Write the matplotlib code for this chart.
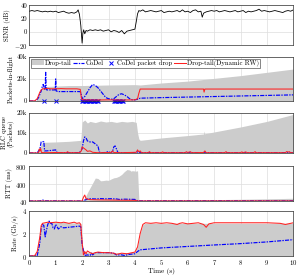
import matplotlib
matplotlib.use("Agg")
import matplotlib.pyplot as plt
from matplotlib.patches import Patch
from matplotlib.lines import Line2D

plt.rcParams["font.family"] = "cmr10"
plt.rcParams["mathtext.fontset"] = "cm"
plt.rcParams["axes.formatter.use_mathtext"] = True

# ---- SINR (dB) ----
sinr_t = [0.0, 0.1, 0.2, 0.3, 0.4, 0.5, 0.6, 0.7, 0.8, 0.9, 1.0, 1.1, 1.2, 1.3, 1.4, 1.5, 1.6, 1.7,
          1.8, 1.85, 1.9, 1.95, 2.0, 2.03, 2.06, 2.1, 2.15, 2.2, 2.3, 2.4, 2.5, 2.6, 2.7, 2.8, 2.9,
          3.0, 3.1, 3.2, 3.3, 3.4, 3.5, 3.6, 3.7, 3.8, 3.9, 4.0, 4.05, 4.1, 4.15, 4.2, 4.3, 4.4,
          4.5, 4.6, 4.7, 4.8, 4.9, 5.0, 5.1, 5.2, 5.3, 5.4, 5.5, 5.6, 5.7, 5.8, 5.9, 6.0, 6.1,
          6.2, 6.3, 6.4, 6.5, 6.55, 6.6, 6.7, 6.8, 6.9, 7.0, 7.1, 7.2, 7.3, 7.4, 7.5, 7.6, 7.7,
          7.8, 7.9, 8.0, 8.1, 8.2, 8.3, 8.4, 8.5, 8.6, 8.7, 8.8, 8.9, 9.0, 9.1, 9.2, 9.3, 9.4,
          9.5, 9.6, 9.7, 9.8, 9.9, 10.0]
sinr_v = [31, 32, 31, 32, 31, 30, 31, 30, 31, 30, 31, 29, 30, 31, 29, 28, 29, 28,
          30, 33, 26, 10, -17, -2, 3, -3, 2, 1, 3, 2, 3, 2, 3, 1, 2,
          3, 0, 2, 1, -1, 2, -3, 1, 2, 3, 4, 15, 27, 32, 31, 33, 30,
          31, 32, 31, 30, 31, 32, 29, 30, 31, 30, 31, 32, 30, 33, 30, 31, 29,
          32, 33, 30, 31, 22, 28, 30, 31, 32, 31, 32, 30, 31, 32, 31, 30, 31,
          32, 30, 31, 32, 29, 31, 30, 31, 32, 34, 31, 32, 31, 30, 31, 32, 31,
          30, 29, 31, 32, 31, 33]

# ---- Packets in flight (k packets) ----
dt_inf_t = [0, 0.25, 0.35, 0.45, 0.5, 1.0, 1.5, 1.95, 2.0, 3.0, 4.0, 4.2, 5.0, 6.0, 7.0, 8.0, 9.0, 10.0]
dt_inf_v = [0, 0, 4, 11, 13, 13.5, 14, 14, 14, 14.5, 14.8, 14.5, 16.3, 18, 20.5, 23, 26, 29]

rw_inf_t = [0, 0.2, 0.3, 0.4, 0.45, 0.5, 0.6, 0.7, 0.8, 1.0, 1.2, 1.4, 1.6, 1.8, 1.93, 1.97, 2.0,
            2.5, 3.0, 3.5, 4.0, 4.1, 4.15, 4.2, 5.0, 6.0, 6.6, 6.62, 6.65, 7.0, 8.0, 9.0, 10.0]
rw_inf_v = [0, 0, 2, 8, 10, 11, 11, 11.5, 11, 11, 11.2, 11, 11, 11, 10.5, 3, 1,
            0.8, 1, 0.8, 1, 2, 7, 10.8, 10.8, 10.8, 10.8, 8, 10.8, 10.8, 10.8, 10.8, 10.8]

cd_inf_t = [0, 0.25, 0.35, 0.45, 0.5, 0.53, 0.56, 0.6, 0.62, 0.64, 0.66, 0.7, 0.8, 0.9, 0.98, 1.0,
            1.02, 1.1, 1.3, 1.5, 1.7, 1.9, 1.95, 2.0, 2.1, 2.2, 2.3, 2.4, 2.5, 2.6, 2.7, 2.8, 2.9,
            3.0, 3.1, 3.2, 3.3, 3.4, 3.5, 3.6, 3.7, 3.8, 3.9, 4.0, 4.1, 4.2, 5.0, 6.0, 7.0, 8.0,
            9.0, 10.0]
cd_inf_v = [0, 0, 3, 9, 14, 15, 12, 10, 26, 12, 10, 10, 10, 10, 10, 20,
            9, 8.5, 8.5, 8.5, 8.5, 8.5, 8, 2, 4, 8, 12, 15, 14, 12, 9, 6, 3,
            2, 1.5, 2, 4, 6, 6.5, 5.5, 4, 2, 1, 1, 1.5, 2.5, 3, 3.5, 4, 4.5,
            5, 5.5]

cd_drop_t = [0.55, 1.0, 2.0, 2.05, 2.1, 2.15, 2.2, 2.25, 2.3, 2.35, 2.4, 2.45, 2.5, 2.55, 2.6,
             3.2, 3.25, 3.3, 3.35, 3.4, 3.45, 3.5, 3.55]
cd_drop_v = [0] * len(cd_drop_t)

# ---- RLC queue (k packets) ----
dt_rlc_t = [0, 0.3, 0.4, 0.5, 1.0, 1.5, 1.95, 1.97, 2.0, 2.1, 2.2, 2.3, 2.5, 2.7, 2.9, 3.1, 3.3,
            3.5, 3.7, 3.9, 4.05, 4.1, 4.15, 4.2, 5.0, 6.0, 6.6, 6.62, 6.64, 7.0, 8.0, 9.0, 10.0]
dt_rlc_v = [0, 0, 3, 5.3, 5.5, 5.8, 6.3, 10, 15.5, 16.5, 15, 15.8, 15.2, 16, 15.5, 15.8, 15.3,
            15.8, 15.5, 15.8, 15.3, 10, 7, 6.3, 7.5, 8.7, 9.5, 11, 9.6, 10.5, 13, 15.8, 19.3]

cd_rlc_t = [0, 0.3, 0.4, 0.45, 0.55, 0.58, 0.65, 0.8, 1.0, 1.05, 1.2, 1.9, 2.0, 2.05, 2.1, 2.15,
            2.2, 2.3, 2.4, 2.5, 2.6, 2.65, 2.7, 2.9, 3.0, 3.05, 3.15, 3.2, 3.25, 3.3, 3.35, 3.4,
            4.0, 4.1, 4.2, 10.0]
cd_rlc_v = [0, 0, 2, 5.5, 5.7, 1, 1, 1.2, 1.5, 0.2, 0.1, 0.1, 2, 6, 8, 7.5,
            6, 5.5, 5.5, 4.5, 3.5, 0.5, 0.1, 0.2, 0.8, 0.1, 0.5, 3, 3.5, 2, 0.3, 0.1,
            0.1, 0.5, 0.1, 0.1]

rw_rlc_t = [0, 0.35, 0.38, 0.4, 0.43, 0.46, 0.6, 1.0, 1.4, 1.45, 1.5, 1.9, 1.97, 2.0, 2.05, 2.1,
            2.15, 2.2, 2.3, 2.4, 2.6, 3.1, 3.15, 3.2, 3.5, 4.05, 4.1, 4.15, 4.2, 4.25, 4.5, 4.55,
            4.6, 5.0, 5.05, 5.1, 5.9, 5.95, 6.0, 6.1, 6.15, 6.6, 6.65, 6.7, 7.4, 7.45, 7.5, 8.0,
            8.05, 8.1, 8.2, 8.25, 8.5, 8.55, 8.6, 9.7, 9.75, 9.8, 9.85, 9.9, 10.0]
rw_rlc_v = [0, 0, 2, 1, 2.2, 0.2, 0.1, 0.2, 0.1, 0.6, 0.1, 0.1, 1, 3, 2.5, 2,
            1.5, 0.8, 1, 0.3, 0.1, 0.2, 1, 0.2, 0.1, 0.3, 1.5, 0.5, 1, 0.1, 0.1, 0.6,
            0.1, 0.1, 0.5, 0.1, 0.1, 0.6, 0.2, 0.6, 0.1, 0.2, 1, 0.1, 0.1, 0.6, 0.1, 0.1,
            0.5, 0.1, 0.5, 0.1, 0.1, 0.6, 0.1, 0.1, 0.7, 0.4, 0.6, 0.1, 0.1]

# ---- RTT (ms) ----
dt_rtt_t = [0, 0.4, 0.5, 0.6, 2.0, 2.1, 2.2, 2.35, 2.5, 2.6, 2.7, 2.8, 2.9, 3.0, 3.1, 3.2, 3.3,
            3.4, 3.5, 3.6, 3.7, 3.8, 3.85, 3.9, 4.05, 4.1, 4.15, 4.2, 5.0, 6.0, 7.0, 8.0, 9.0, 10.0]
dt_rtt_v = [45, 45, 55, 45, 45, 100, 220, 380, 540, 530, 480, 485, 495, 490, 520, 545, 555,
            580, 620, 680, 725, 715, 690, 700, 690, 700, 60, 50, 55, 62, 70, 78, 88, 100]

cd_rtt_t = [0, 0.4, 0.5, 0.55, 0.6, 2.0, 2.1, 2.2, 2.3, 2.5, 2.7, 2.9, 3.1, 3.3, 3.4, 3.6, 3.8,
            4.0, 4.1, 10.0]
cd_rtt_v = [42, 42, 60, 55, 45, 42, 60, 80, 90, 85, 92, 88, 90, 85, 75, 80, 78,
            75, 45, 45]

rw_rtt_t = [0, 2.0, 2.05, 2.1, 2.15, 2.3, 2.6, 3.0, 3.5, 4.0, 4.1, 10.0]
rw_rtt_v = [40, 40, 120, 170, 90, 70, 65, 62, 58, 55, 42, 42]

# ---- Rate (Gb/s) ----
dt_rate_t = [0, 0.2, 0.3, 0.4, 0.45, 0.5, 1.0, 1.5, 1.95, 2.0, 2.05, 2.1, 2.3, 2.6, 3.0, 3.5,
             4.0, 4.1, 4.2, 4.3, 4.4, 10.0]
dt_rate_v = [0, 0, 0.5, 1.8, 2.6, 2.9, 3.0, 2.95, 2.9, 1.5, 0.1, 0.3, 0.35, 0.35, 0.3, 0.25,
             0.35, 0.8, 2.0, 2.8, 2.9, 2.9]

rw_rate_t = [0, 0.2, 0.3, 0.4, 0.45, 0.5, 0.6, 0.7, 0.8, 1.0, 1.2, 1.3, 1.5, 1.6, 1.7, 1.8,
             1.9, 1.95, 2.0, 2.05, 2.1, 2.15, 2.2, 2.3, 2.4, 2.5, 2.6, 2.8, 3.0, 3.2, 3.3,
             3.4, 3.5, 3.7, 3.9, 4.0, 4.1, 4.2, 4.3, 4.4, 4.6, 4.8, 5.0, 5.2, 5.4, 5.6, 5.7,
             5.8, 6.0, 6.2, 6.4, 6.6, 6.7, 6.8, 7.0, 7.5, 8.0, 8.5, 9.0, 9.5, 9.7, 9.8, 10.0]
rw_rate_v = [0, 0.02, 0.4, 1.7, 2.7, 2.9, 2.95, 3.0, 2.95, 3.0, 2.95, 3.0, 2.9, 2.95, 3.0, 2.9,
             2.95, 2.8, 1.2, 0.1, 0.4, 0.2, 0.45, 0.3, 0.2, 0.3, 0.35, 0.3, 0.3, 0.25, 0.15,
             0.2, 0.25, 0.2, 0.3, 0.35, 0.8, 2.0, 2.8, 2.95, 2.9, 2.95, 2.9, 2.95, 2.9, 2.8, 2.9,
             2.95, 2.85, 2.9, 2.95, 2.8, 2.55, 2.85, 2.95, 2.95, 2.95, 2.95, 2.95, 2.9, 2.8, 2.85, 2.95]

cd_rate_t = [0, 0.3, 0.4, 0.45, 0.5, 0.55, 0.6, 0.65, 0.7, 0.75, 0.8, 0.85, 0.9, 0.95, 1.0,
             1.05, 1.1, 1.2, 1.3, 1.5, 1.7, 1.9, 1.95, 2.0, 2.1, 2.2, 2.3, 2.35, 2.4, 2.5, 2.6,
             2.8, 3.0, 3.2, 3.3, 3.5, 3.6, 3.8, 4.0, 4.1, 4.2, 5.0, 6.0, 7.0, 8.0, 9.0, 10.0]
cd_rate_v = [0, 0.02, 1.2, 2.5, 2.8, 2.7, 1.7, 2.3, 2.8, 3.1, 2.9, 2.9, 2.5, 2.4, 2.8,
             2.6, 2.4, 2.6, 2.5, 2.55, 2.6, 2.65, 2.6, 1.0, 0.05, 0.1, 0.05, 0.25, 0.1, 0.3, 0.3,
             0.3, 0.3, 0.25, 0.1, 0.1, 0.05, 0.15, 0.2, 0.4, 0.55, 0.72, 0.85, 0.98, 1.1, 1.25, 1.45]

GRAY = "#cccccc"
BLUE = "#0000ff"
RED = "#ff2020"
CDSTYLE = (0, (3.5, 1, 1.2, 1))
CDLW = 0.85
FS = 4.8

fig = plt.figure(figsize=(2.99, 2.75), dpi=100)
L, W = 0.098, 0.883
boxes = [(0.836, 0.145), (0.633, 0.160), (0.444, 0.145), (0.269, 0.127), (0.069, 0.164)]
axes = [fig.add_axes([L, b, W, h]) for b, h in boxes]

for ax in axes:
    ax.set_xlim(0, 10)
    ax.set_xticks(range(11))
    ax.grid(True, color="#dddddd", linewidth=0.5)
    ax.set_axisbelow(True)
    ax.tick_params(labelsize=FS, length=0, pad=1.5)
    for s in ax.spines.values():
        s.set_linewidth(0.5)
        s.set_color("#333333")
    if ax is not axes[-1]:
        ax.set_xticklabels([])

# SINR
ax = axes[0]
ax.plot(sinr_t, sinr_v, color="black", linewidth=0.6)
ax.set_ylim(-20, 40)
ax.set_yticks([-20, 0, 20, 40])
ax.set_yticklabels(["$-20$", "0", "20", "40"])
ax.set_ylabel("SINR (dB)", fontsize=FS, labelpad=2)

# packets in flight
ax = axes[1]
ax.fill_between(dt_inf_t, dt_inf_v, color=GRAY, linewidth=0)
ax.plot(cd_inf_t, cd_inf_v, color=BLUE, linewidth=CDLW, linestyle=CDSTYLE)
ax.plot(cd_drop_t, cd_drop_v, linestyle="none", marker="x", color=BLUE, markersize=2.6,
        markeredgewidth=0.7, clip_on=False)
ax.plot(rw_inf_t, rw_inf_v, color=RED, linewidth=0.75)
ax.set_ylim(0, 40)
ax.set_yticks([0, 20, 40])
ax.set_yticklabels(["0", "20k", "40k"])
ax.set_ylabel("Packets-in-flight", fontsize=FS, labelpad=2)
handles = [Patch(facecolor=GRAY, edgecolor="none"),
           Line2D([], [], color=BLUE, linewidth=CDLW, linestyle=CDSTYLE),
           Line2D([], [], color=BLUE, linestyle="none", marker="x", markersize=2.6, markeredgewidth=0.7),
           Line2D([], [], color=RED, linewidth=0.75)]
labels = ["Drop-tail", "CoDel", "CoDel packet drop", "Drop-tail(Dynamic RW)"]
leg = ax.legend(handles, labels, loc="upper left", ncol=4, fontsize=FS, frameon=True,
                fancybox=False, framealpha=1, edgecolor="#555555", handlelength=1.7,
                handletextpad=0.15, columnspacing=0.25, borderpad=0.2, borderaxespad=0.25)
leg.get_frame().set_linewidth(0.5)

# RLC queue
ax = axes[2]
ax.fill_between(dt_rlc_t, dt_rlc_v, color=GRAY, linewidth=0)
ax.plot(cd_rlc_t, cd_rlc_v, color=BLUE, linewidth=CDLW, linestyle=CDSTYLE)
ax.plot(rw_rlc_t, rw_rlc_v, color=RED, linewidth=0.75)
ax.set_ylim(0, 20)
ax.set_yticks([0, 10, 20])
ax.set_yticklabels(["0", "10k", "20k"])
ax.set_ylabel("RLC queue\n(Packets)", fontsize=FS, labelpad=2, linespacing=1.0)

# RTT
ax = axes[3]
ax.fill_between(dt_rtt_t, dt_rtt_v, 40, color=GRAY, linewidth=0)
ax.plot(cd_rtt_t, cd_rtt_v, color=BLUE, linewidth=CDLW, linestyle=CDSTYLE)
ax.plot(rw_rtt_t, rw_rtt_v, color=RED, linewidth=0.75)
ax.set_ylim(40, 800)
ax.set_yticks([40, 400, 800])
ax.set_ylabel("RTT (ms)", fontsize=FS, labelpad=2)

# Rate
ax = axes[4]
ax.fill_between(dt_rate_t, dt_rate_v, color=GRAY, linewidth=0)
ax.plot(cd_rate_t, cd_rate_v, color=BLUE, linewidth=CDLW, linestyle=CDSTYLE)
ax.plot(rw_rate_t, rw_rate_v, color=RED, linewidth=0.75)
ax.set_ylim(0, 4)
ax.set_yticks([0, 2, 4])
ax.set_ylabel("Rate (Gb/s)", fontsize=FS, labelpad=2)
ax.set_xlabel("Time (s)", fontsize=FS + 0.3, labelpad=0.5)

fig.savefig("out.png", dpi=100)
